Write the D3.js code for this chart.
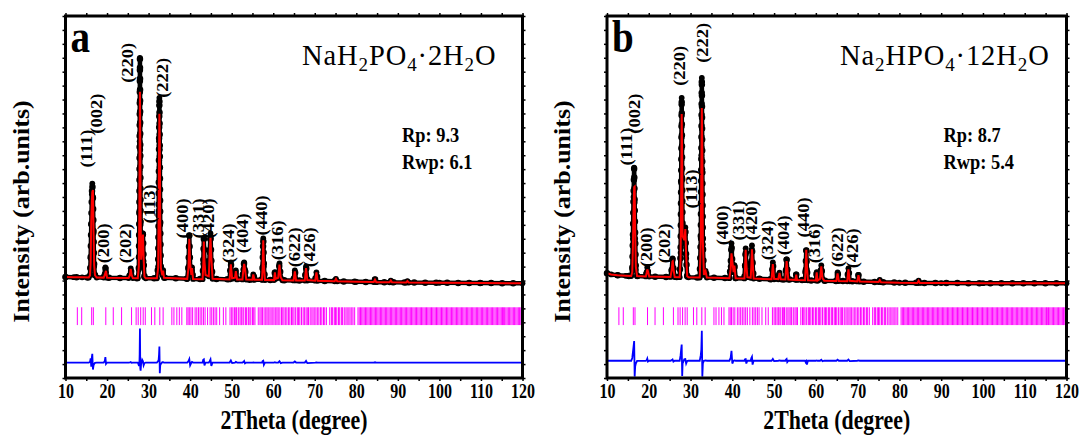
<!DOCTYPE html>
<html>
<head>
<meta charset="utf-8">
<script src="https://cdn.jsdelivr.net/npm/d3@7"></script>
<style>
body { margin: 0; background: #fff; }
text { font-family: "Liberation Serif", "Times New Roman", serif; }
</style>
</head>
<body>
<div id="chart"></div>
<script>
// rows: [2theta, observed, calculated]
var profileA = [
	[10.0, 625, 625], [12.0, 620, 620], [14.0, 615, 615], [15.6, 612, 612],
	[15.9, 700, 680], [16.05, 1300, 1150], [16.2, 2500, 2650], [16.35, 3600, 3400],
	[16.45, 3983, 3670], [16.6, 3500, 3750], [16.75, 2200, 2300], [16.9, 1000, 1050],
	[17.1, 680, 690], [17.5, 610, 610], [19.2, 605, 605], [19.45, 750, 700],
	[19.6, 975, 780], [19.75, 800, 850], [20.0, 603, 603], [25.2, 590, 590],
	[25.5, 700, 690], [25.7, 940, 920], [25.9, 700, 710], [26.2, 588, 588],
	[27.4, 585, 585], [27.65, 900, 1000], [27.78, 3000, 3100], [27.85, 5500, 5200],
	[27.92, 8496, 7278], [28.0, 5200, 5400], [28.08, 2500, 2790], [28.2, 1200, 1250],
	[28.45, 1800, 1700], [28.65, 2193, 2150], [28.8, 1200, 1300], [29.0, 620, 640],
	[29.3, 582, 582], [32.0, 578, 578], [32.3, 1000, 950], [32.42, 3000, 2900],
	[32.52, 5500, 5200], [32.6, 7063, 6490], [32.7, 5200, 5580], [32.8, 2500, 2600],
	[32.95, 900, 950], [33.3, 700, 690], [33.5, 870, 860], [33.7, 600, 600],
	[39.3, 560, 560], [39.6, 1000, 950], [39.8, 2121, 2000], [40.0, 1000, 1100],
	[40.3, 700, 700], [40.45, 975, 950], [40.7, 558, 558], [43.0, 550, 550],
	[43.15, 1100, 1000], [43.3, 2014, 1900], [43.45, 1100, 1200], [43.7, 700, 700],
	[44.5, 650, 650], [44.7, 1500, 1450], [44.9, 2193, 2080], [45.1, 1200, 1320],
	[45.4, 560, 560], [49.5, 540, 540], [49.8, 1154, 1080], [50.1, 560, 580],
	[50.8, 600, 600], [51.0, 868, 840], [51.3, 540, 540], [52.6, 540, 540],
	[52.8, 900, 880], [53.0, 1154, 1100], [53.2, 900, 930], [53.5, 535, 535],
	[55.0, 530, 530], [55.2, 724, 720], [55.5, 528, 528], [57.3, 525, 525],
	[57.45, 1000, 950], [57.6, 2014, 1950], [57.75, 1000, 1080], [58.0, 520, 520],
	[60.2, 515, 515], [60.4, 800, 790], [60.6, 560, 560], [61.2, 600, 600],
	[61.5, 1118, 1070], [61.8, 600, 620], [62.2, 510, 510], [64.9, 505, 505],
	[65.2, 868, 830], [65.5, 505, 505], [67.6, 500, 500], [67.9, 1011, 950],
	[68.2, 500, 520], [70.1, 495, 495], [70.4, 796, 790], [70.7, 490, 490],
	[74.8, 475, 475], [75.1, 560, 560], [75.4, 472, 472], [80.0, 455, 455],
	[84.2, 445, 445], [84.5, 540, 530], [84.8, 442, 442], [88.0, 437, 437],
	[88.3, 500, 500], [88.6, 435, 435], [92.0, 430, 430], [92.3, 480, 480],
	[92.6, 429, 429], [100.0, 420, 420], [110.0, 410, 410], [120.0, 400, 400]
];

var profileB = [
	[10.0, 760, 760], [11.0, 720, 720], [12.5, 690, 690], [14.5, 670, 670],
	[15.8, 660, 660], [16.05, 900, 800], [16.2, 2000, 1700], [16.35, 3500, 3000],
	[16.5, 4556, 3850], [16.62, 3300, 3870], [16.75, 2000, 2200], [16.9, 900, 1000],
	[17.2, 660, 665], [19.3, 648, 648], [19.5, 800, 780], [19.65, 975, 900],
	[19.8, 800, 830], [20.1, 645, 645], [25.2, 628, 628], [25.5, 900, 880],
	[25.7, 1297, 1250], [25.9, 900, 930], [26.2, 625, 625], [27.4, 620, 620],
	[27.62, 1500, 1300], [27.75, 4000, 3600], [27.88, 7063, 6480], [28.0, 4200, 4750],
	[28.1, 2000, 2100], [28.5, 2000, 1950], [28.75, 2408, 2350], [28.95, 1300, 1400],
	[29.2, 640, 650], [29.5, 615, 615], [32.2, 608, 608], [32.45, 2000, 1800],
	[32.58, 5000, 4600], [32.7, 7780, 6700], [32.82, 4500, 5070], [32.95, 1800, 1900],
	[33.2, 700, 700], [33.6, 850, 840], [33.9, 605, 605], [39.3, 585, 585],
	[39.6, 1000, 900], [39.8, 1835, 1480], [40.0, 1100, 1200], [40.3, 800, 800],
	[40.5, 1050, 1040], [40.8, 583, 583], [42.9, 575, 575], [43.05, 1000, 950],
	[43.2, 1656, 1600], [43.35, 1000, 1100], [43.6, 620, 620], [44.4, 600, 600],
	[44.55, 1100, 1000], [44.7, 1763, 1620], [44.85, 1100, 1240], [45.1, 570, 570],
	[49.4, 545, 545], [49.7, 1154, 1090], [50.0, 545, 560], [51.0, 545, 545],
	[51.3, 780, 770], [51.6, 543, 543], [52.7, 540, 540], [52.85, 900, 860],
	[53.0, 1262, 1200], [53.15, 900, 950], [53.4, 535, 535], [55.1, 525, 525],
	[55.3, 720, 715], [55.5, 522, 522], [57.4, 512, 512], [57.55, 900, 950],
	[57.7, 1584, 1600], [57.85, 900, 1040], [58.1, 508, 508], [60.0, 500, 500],
	[60.2, 800, 790], [60.4, 500, 500], [61.0, 560, 560], [61.3, 1047, 1010],
	[61.6, 560, 580], [62.0, 495, 495], [64.9, 485, 485], [65.2, 796, 760],
	[65.5, 483, 483], [67.5, 475, 475], [67.8, 940, 900], [68.1, 475, 490],
	[69.9, 468, 468], [70.2, 700, 690], [70.5, 465, 465], [75.0, 445, 445],
	[75.3, 520, 515], [75.6, 442, 442], [80.0, 420, 420], [84.3, 416, 416],
	[84.6, 500, 495], [84.9, 415, 415], [90.0, 410, 410], [100.0, 405, 405],
	[120.0, 400, 400]
];

// Bragg positions (2theta)
var braggTicks = [
	12.85, 13.9, 16.3, 16.7, 19.7, 21.5, 23.5, 25.9, 27.0, 27.5, 28.1, 28.7, 29.2,
	30.7, 31.5, 32.7, 33.5, 35.6, 36.1, 36.8, 37.4, 38.0, 39.2, 39.5, 39.8, 40.2, 40.6,
	41.2, 41.6, 42.0, 42.4, 42.8, 43.2, 43.6, 44.2, 44.8, 45.2, 45.6, 46.0, 46.4, 47.1,
	48.0, 48.6, 49.6, 50.0, 50.3, 50.7, 51.0, 51.2, 51.6, 52.0, 52.3, 52.5, 52.9, 53.3,
	53.6, 54.0, 54.2, 54.6, 55.0, 55.3, 55.6, 56.4, 56.8, 57.1, 57.4, 57.8, 58.2, 58.5,
	58.8, 59.2, 59.5, 59.9, 60.2, 60.6, 60.9, 61.2, 61.6, 62.0, 62.3, 62.6, 63.0, 63.3,
	63.7, 64.0, 64.4, 64.7, 65.0, 65.4, 65.8, 66.1, 66.4, 66.8, 67.2, 67.5, 67.9, 68.2,
	68.5, 68.9, 69.3, 69.6, 70.0, 70.3, 70.7, 71.0, 71.4, 71.7, 72.1, 72.4, 72.8, 73.6,
	74.0, 74.3, 74.7, 75.0, 75.3, 75.7, 76.0, 76.4, 76.7, 77.1, 77.5, 77.8, 78.2, 78.5,
	78.9, 79.2, 79.6, 80.4, 80.7, 81.0, 81.3, 81.6, 81.9, 82.2, 82.5, 82.8, 83.1, 83.4,
	83.7, 84.0, 84.3, 84.6, 84.9, 85.2, 85.5, 85.8, 86.1, 86.4, 86.7, 87.0, 87.3, 87.6,
	87.9, 88.2, 88.5, 88.8, 89.1, 89.4, 89.7, 90.0, 90.3, 90.6, 90.9, 91.2, 91.5, 91.8,
	92.1, 92.4, 92.7, 93.0, 93.3, 93.6, 93.9, 94.2, 94.5, 94.8, 95.1, 95.4, 95.7, 96.0,
	96.3, 96.6, 96.9, 97.2, 97.5, 97.8, 98.1, 98.4, 98.7, 99.0, 99.3, 99.6, 99.9, 100.2,
	100.5, 100.8, 101.1, 101.4, 101.7, 102.0, 102.3, 102.6, 102.9, 103.2, 103.5, 103.8,
	104.1, 104.4, 104.7, 105.0, 105.3, 105.6, 105.9, 106.2, 106.5, 106.8, 107.1, 107.4,
	107.7, 108.0, 108.3, 108.6, 108.9, 109.2, 109.5, 109.8, 110.1, 110.4, 110.7, 111.0,
	111.3, 111.6, 111.9, 112.2, 112.5, 112.8, 113.1, 113.4, 113.7, 114.0, 114.3, 114.6,
	114.9, 115.2, 115.4, 115.7, 116.0, 116.3, 116.6, 116.9, 117.2, 117.5, 117.8, 118.1,
	118.4, 118.7, 119.0, 119.3, 119.6, 119.85
];

// [hkl, 2theta, intensity at foot of text]
var labelsA = [
	['(111)', 15.25, 4556], ['(002)', 17.5, 5774], ['(200)', 19.35, 1118],
	['(202)', 24.5, 1118], ['(220)', 25.1, 7600], ['(113)', 30.3, 2551],
	['(222)', 33.4, 7063], ['(400)', 38.2, 2014], ['(331)', 42.2, 2014],
	['(420)', 44.6, 2014], ['(324)', 49.4, 1118], ['(404)', 52.8, 1477],
	['(440)', 57.2, 2121], ['(316)', 61.2, 1226], ['(622)', 65.2, 975],
	['(426)', 68.8, 975]
];
var labelsB = [
	['(111)', 14.72, 4628], ['(002)', 16.71, 5774], ['(200)', 19.51, 975],
	['(202)', 23.9, 1118], ['(220)', 27.49, 7493], ['(113)', 30.3, 3088],
	['(222)', 33.08, 8317], ['(400)', 37.87, 1763], ['(331)', 41.7, 1942],
	['(420)', 44.68, 1942], ['(324)', 48.65, 1226], ['(404)', 52.4, 1405],
	['(440)', 57.2, 2050], ['(316)', 59.85, 1118], ['(622)', 65.19, 975],
	['(426)', 68.88, 940]
];

var formulaA = [['NaH', 0], ['2', 1], ['PO', 0], ['4', 1], ['\u00b72H', 0], ['2', 1], ['O', 0]];
var formulaB = [['Na', 0], ['2', 1], ['HPO', 0], ['4', 1], ['\u00b712H', 0], ['2', 1], ['O', 0]];
var factorsA = ['Rp: 9.3', 'Rwp: 6.1'];
var factorsB = ['Rp: 8.7', 'Rwp: 5.4'];

var xMajor = [10, 20, 30, 40, 50, 60, 70, 80, 90, 100, 110, 120];
var xMinor = [15, 25, 35, 45, 55, 65, 75, 85, 95, 105, 115];
var yDomain = [-3000, 10000];
var braggBand = [-1100, -460];

var svg = d3.select('#chart').append('svg')
	.attr('width', 1079).attr('height', 438);

var top_y = 16, bottom_y = 378;

function drawPanel(p){
	var x = d3.scaleLinear().domain([10, 120]).range([p.left, p.right]);
	var y = d3.scaleLinear().domain(yDomain).range([bottom_y, top_y]);
	var g = svg.append('g');

	g.append('g').selectAll('line').data(braggTicks).enter().append('line')
	.attr('x1', function(d){ return x(d); })
	.attr('x2', function(d){ return x(d); })
	.attr('y1', y(braggBand[1]))
	.attr('y2', y(braggBand[0]))
	.attr('stroke', '#ff00ff')
	.attr('stroke-width', 1);

	g.append('path').datum(p.profile)
	.attr('fill', 'none').attr('stroke', '#0000ff').attr('stroke-width', 1.8)
	.attr('d', d3.line()
		.x(function(d){ return x(d[0]); })
		.y(function(d){ return y(p.diffOffset + d[1] - d[2]); }));

	var obsLine = d3.line()
		.x(function(d){ return x(d[0]); })
		.y(function(d){ return y(d[1]); });

	// observed: line plus a string of dots
	g.append('path').datum(p.profile)
	.attr('fill', 'none').attr('stroke', 'black').attr('stroke-width', 4.5)
	.attr('stroke-linejoin', 'round')
	.attr('d', obsLine);
	g.append('path').datum(p.profile)
	.attr('fill', 'none').attr('stroke', 'black').attr('stroke-width', 6.5)
	.attr('stroke-linecap', 'round')
	.attr('stroke-dasharray', '0,11')
	.attr('d', obsLine);

	g.append('g').selectAll('circle').data(p.profile).enter().append('circle')
	.attr('cx', function(d){ return x(d[0]); })
	.attr('cy', function(d){ return y(d[1]); })
	.attr('r', 2.9)
	.attr('fill', 'black');

	g.append('path').datum(p.profile)
	.attr('fill', 'none').attr('stroke', '#ff0000').attr('stroke-width', 2)
	.attr('d', d3.line()
		.x(function(d){ return x(d[0]); })
		.y(function(d){ return y(d[2]); }));

	// frame + ticks
	var allX = xMajor.concat(xMinor);
	var fmt = function(d){ return xMajor.indexOf(d) >= 0 ? d : ''; };
	var bottom = g.append('g').attr('transform', 'translate(0,' + bottom_y + ')')
	.call(d3.axisBottom(x).tickValues(allX).tickFormat(fmt).tickSize(3).tickPadding(3));
	g.append('g').attr('transform', 'translate(0,' + top_y + ')')
	.call(d3.axisTop(x).tickValues(allX).tickFormat('').tickSize(3));
	g.append('g').attr('transform', 'translate(' + p.left + ',0)')
	.call(d3.axisLeft(y).ticks(26).tickFormat('').tickSize(3));
	g.append('g').attr('transform', 'translate(' + p.right + ',0)')
	.call(d3.axisRight(y).ticks(26).tickFormat('').tickSize(3));
	g.selectAll('.domain').remove();
	g.selectAll('.tick line').attr('stroke', 'black').attr('stroke-width', 1.5);
	bottom.selectAll('text')
	.attr('font-family', '"Liberation Serif", serif')
	.attr('font-size', 20)
	.attr('font-weight', 'bold')
	.attr('fill', 'black')
	.attr('transform', 'scale(0.8,1)');

	g.append('rect')
	.attr('x', p.left).attr('y', top_y)
	.attr('width', p.right - p.left).attr('height', bottom_y - top_y)
	.attr('fill', 'none').attr('stroke', 'black').attr('stroke-width', 3);

	g.selectAll('.hkl').data(p.labels).enter().append('text')
	.attr('class', 'hkl')
	.attr('transform', function(d){
		return 'translate(' + [x(d[1]), y(d[2])] + ') scale(0.85,1) rotate(-90)';
	})
	.attr('dominant-baseline', 'central')
	.attr('font-size', 18.5)
	.attr('font-weight', 'bold')
	.text(function(d){ return d[0]; });

	g.append('text')
	.attr('transform', 'translate(' + [p.left + 5, 52] + ') scale(0.85,1)')
	.attr('font-size', 46).attr('font-weight', 'bold')
	.text(p.letter);

	var f = g.append('text')
	.attr('x', p.formulaX).attr('y', 65)
	.attr('font-size', 28.5)
	.attr('letter-spacing', 0.9);
	f.selectAll('tspan').data(p.formula).enter().append('tspan')
	.attr('font-size', function(d){ return d[1] ? 19 : 28.5; })
	.attr('dy', function(d, i){
		if (d[1]) return 6;
		return (i > 0 && p.formula[i - 1][1]) ? -6 : 0;
	})
	.text(function(d){ return d[0]; });

	g.selectAll('.rf').data(p.factors).enter().append('text')
	.attr('class', 'rf')
	.attr('transform', function(d, i){
		return 'translate(' + [p.left + 336.5, 142 + i * 26.5] + ') scale(0.92,1)';
	})
	.attr('font-size', 20).attr('font-weight', 'bold')
	.text(function(d){ return d; });

	g.append('text')
	.attr('transform', 'translate(' + [p.left - 37, 211.5] + ') scale(0.85,1) rotate(-90)')
	.attr('text-anchor', 'middle')
	.attr('font-size', 26).attr('font-weight', 'bold')
	.text('Intensity (arb.units)');

	g.append('text')
	.attr('transform', 'translate(' + [(p.left + p.right) / 2, 429] + ') scale(0.78,1)')
	.attr('text-anchor', 'middle')
	.attr('font-size', 28).attr('font-weight', 'bold')
	.text('2Theta (degree)');
}

drawPanel({left: 65.5, right: 522.5, profile: profileA, labels: labelsA, diffOffset: -2445,
	letter: 'a', formula: formulaA, formulaX: 302, factors: factorsA});
drawPanel({left: 607, right: 1066.5, profile: profileB, labels: labelsB, diffOffset: -2380,
	letter: 'b', formula: formulaB, formulaX: 840, factors: factorsB});
</script>
</body>
</html>
